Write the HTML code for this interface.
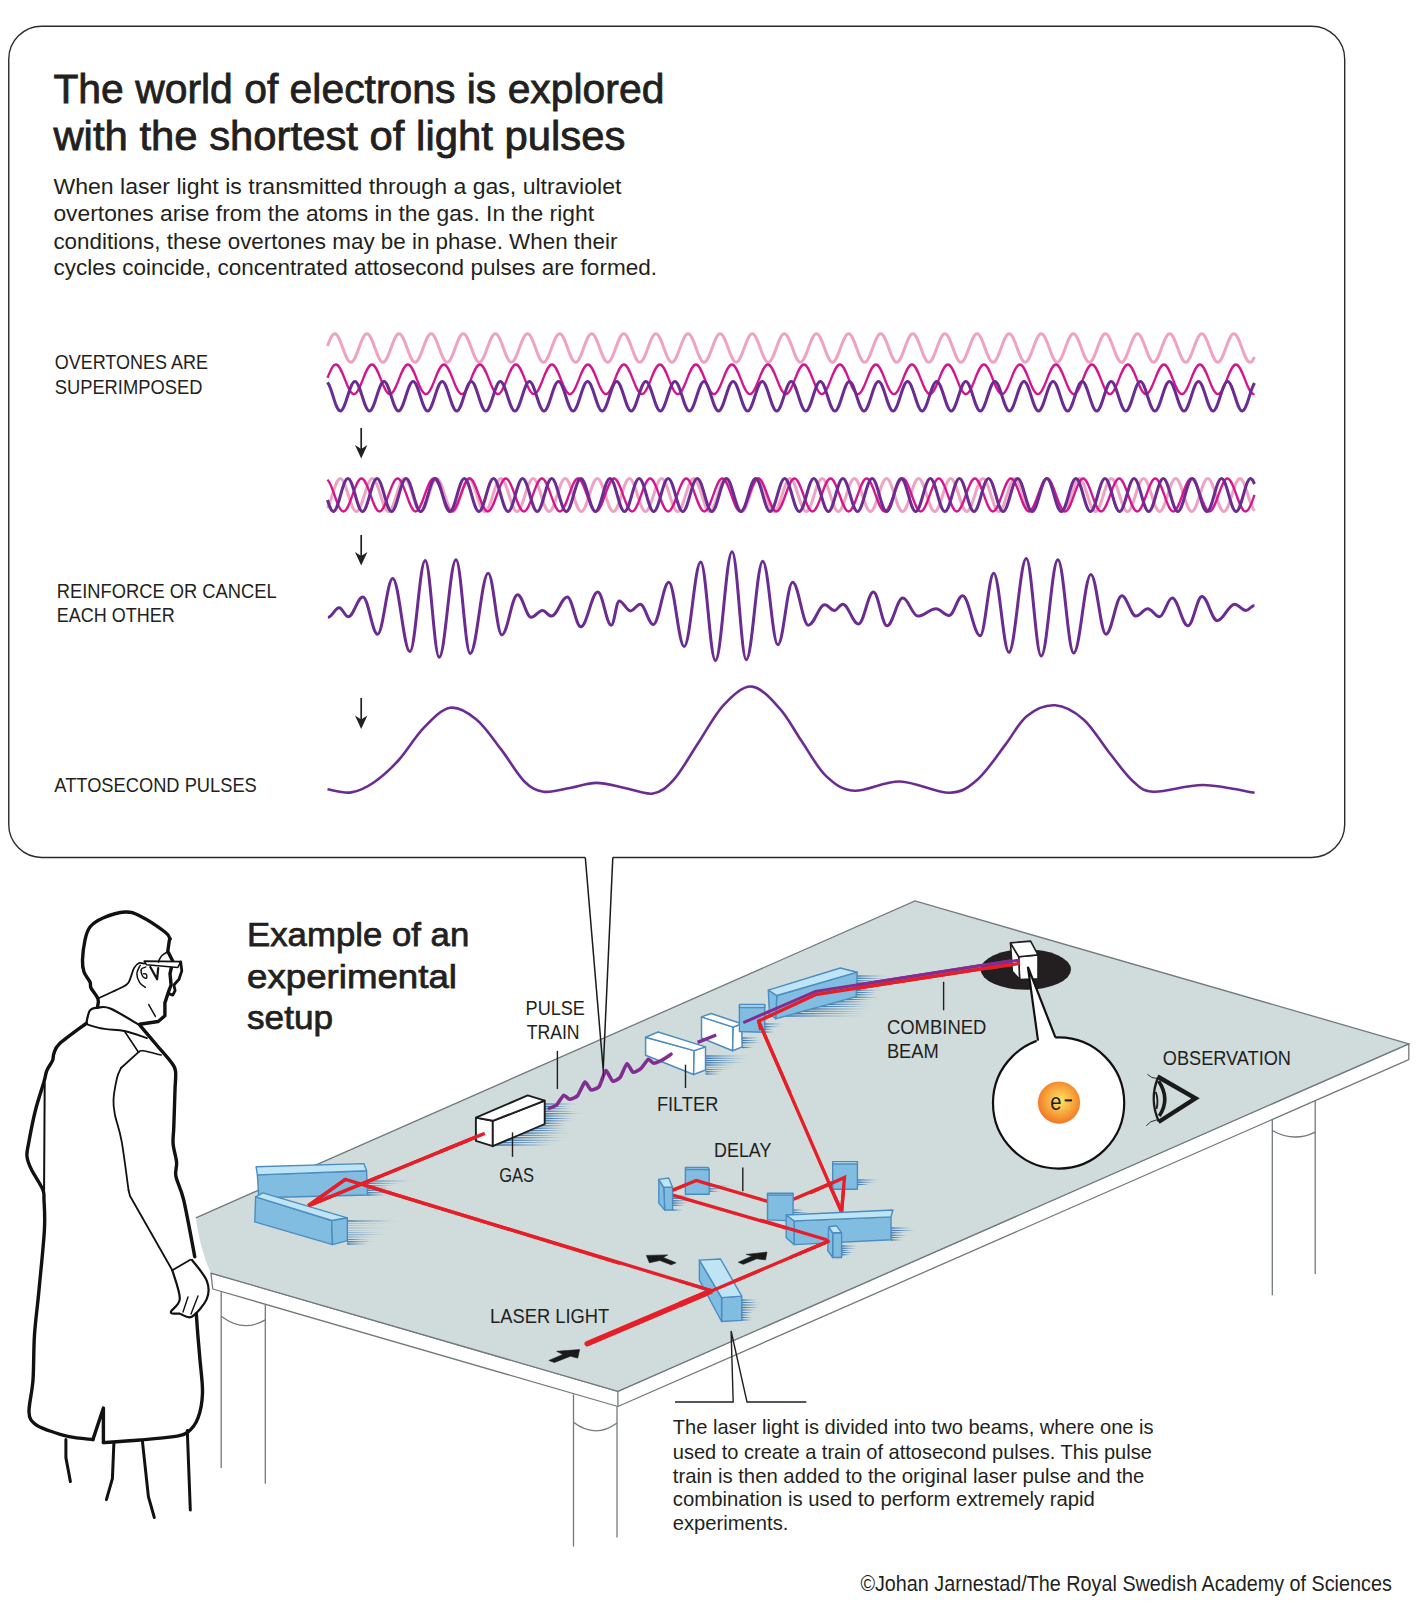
<!DOCTYPE html>
<html><head><meta charset="utf-8"><title>Attosecond pulses</title>
<style>html,body{margin:0;padding:0;background:#fff;} svg{display:block;}</style></head>
<body>
<svg width="1417" height="1602" viewBox="0 0 1417 1602" font-family="'Liberation Sans', sans-serif">
<defs>
<linearGradient id="shg" x1="0" y1="0" x2="1" y2="0" gradientUnits="objectBoundingBox"><stop offset="0" stop-color="#3d76a8"/><stop offset="0.6" stop-color="#5b8fbb" stop-opacity="0.75"/><stop offset="1" stop-color="#7aa6c9" stop-opacity="0"/></linearGradient>
<radialGradient id="eg" cx="0.52" cy="0.45" r="0.55"><stop offset="0" stop-color="#fde66a"/><stop offset="0.45" stop-color="#f9b646"/><stop offset="1" stop-color="#f37522"/></radialGradient>
</defs>
<rect width="1417" height="1602" fill="#fff"/>
<path d="M585.3 857.5 L41.75 857.5 A33 33 0 0 1 8.75 824.5 L8.75 59.2 A33 33 0 0 1 41.75 26.2 L1311.7 26.2 A33 33 0 0 1 1344.7 59.2 L1344.7 824.5 A33 33 0 0 1 1311.7 857.5 L612.8 857.5" fill="none" stroke="#2b2b2b" stroke-width="1.4"/>
<text x="53.4" y="102.6" font-size="40" font-weight="normal" fill="#231f20" textLength="611" lengthAdjust="spacingAndGlyphs" stroke="#231f20" stroke-width="0.8">The world of electrons is explored</text>
<text x="53.4" y="149.8" font-size="40" font-weight="normal" fill="#231f20" textLength="572" lengthAdjust="spacingAndGlyphs" stroke="#231f20" stroke-width="0.8">with the shortest of light pulses</text>
<text x="53.4" y="194.1" font-size="22.5" font-weight="normal" fill="#231f20" textLength="568" lengthAdjust="spacingAndGlyphs">When laser light is transmitted through a gas, ultraviolet</text>
<text x="53.4" y="220.8" font-size="22.5" font-weight="normal" fill="#231f20" textLength="540.6" lengthAdjust="spacingAndGlyphs">overtones arise from the atoms in the gas. In the right</text>
<text x="53.4" y="248.5" font-size="22.5" font-weight="normal" fill="#231f20" textLength="564" lengthAdjust="spacingAndGlyphs">conditions, these overtones may be in phase. When their</text>
<text x="53.4" y="275" font-size="22.5" font-weight="normal" fill="#231f20" textLength="603.6" lengthAdjust="spacingAndGlyphs">cycles coincide, concentrated attosecond pulses are formed.</text>
<text x="54.7" y="369.4" font-size="21" font-weight="normal" fill="#231f20" textLength="153.2" lengthAdjust="spacingAndGlyphs">OVERTONES ARE</text>
<text x="54.7" y="393.8" font-size="21" font-weight="normal" fill="#231f20" textLength="147.7" lengthAdjust="spacingAndGlyphs">SUPERIMPOSED</text>
<text x="56.8" y="597.6" font-size="21" font-weight="normal" fill="#231f20" textLength="219.8" lengthAdjust="spacingAndGlyphs">REINFORCE OR CANCEL</text>
<text x="56.8" y="621.8" font-size="21" font-weight="normal" fill="#231f20" textLength="118" lengthAdjust="spacingAndGlyphs">EACH OTHER</text>
<text x="54.3" y="791.6" font-size="21" font-weight="normal" fill="#231f20" textLength="202.5" lengthAdjust="spacingAndGlyphs">ATTOSECOND PULSES</text>
<path d="M361.2 428 L361.2 449.5" stroke="#231f20" stroke-width="1.7"/><path d="M355.0 445.0 L361.2 458.5 L367.4 445.0 L361.2 449.0Z" fill="#231f20"/>
<path d="M361.2 535 L361.2 556.5" stroke="#231f20" stroke-width="1.7"/><path d="M355.0 552.0 L361.2 565.5 L367.4 552.0 L361.2 556.0Z" fill="#231f20"/>
<path d="M361.2 698 L361.2 720" stroke="#231f20" stroke-width="1.7"/><path d="M355.0 715.5 L361.2 729 L367.4 715.5 L361.2 719.5Z" fill="#231f20"/>

<path d="M327.5 346L329.3 341.2L331.1 337.2L333 334.6L334.8 333.7C340.6 333.7 345 362.3 350.9 362.3C356.7 362.3 361.1 333.7 366.9 333.7C372.8 333.7 377.1 362.3 383 362.3C388.8 362.3 393.2 333.7 399 333.7C404.9 333.7 409.2 362.3 415.1 362.3C420.9 362.3 425.3 333.7 431.1 333.7C437 333.7 441.3 362.3 447.2 362.3C453 362.3 457.4 333.7 463.2 333.7C469.1 333.7 473.5 362.3 479.3 362.3C485.1 362.3 489.5 333.7 495.4 333.7C501.2 333.7 505.6 362.3 511.4 362.3C517.2 362.3 521.6 333.7 527.5 333.7C533.3 333.7 537.7 362.3 543.5 362.3C549.4 362.3 553.7 333.7 559.6 333.7C565.4 333.7 569.8 362.3 575.6 362.3C581.5 362.3 585.8 333.7 591.7 333.7C597.5 333.7 601.9 362.3 607.7 362.3C613.6 362.3 617.9 333.7 623.8 333.7C629.6 333.7 634 362.3 639.8 362.3C645.7 362.3 650.1 333.7 655.9 333.7C661.7 333.7 666.1 362.3 672 362.3C677.8 362.3 682.2 333.7 688 333.7C693.9 333.7 698.2 362.3 704.1 362.3C709.9 362.3 714.3 333.7 720.1 333.7C726 333.7 730.3 362.3 736.2 362.3C742 362.3 746.4 333.7 752.2 333.7C758.1 333.7 762.4 362.3 768.3 362.3C774.1 362.3 778.5 333.7 784.3 333.7C790.2 333.7 794.6 362.3 800.4 362.3C806.2 362.3 810.6 333.7 816.5 333.7C822.3 333.7 826.7 362.3 832.5 362.3C838.3 362.3 842.7 333.7 848.6 333.7C854.4 333.7 858.8 362.3 864.6 362.3C870.5 362.3 874.8 333.7 880.7 333.7C886.5 333.7 890.9 362.3 896.7 362.3C902.6 362.3 906.9 333.7 912.8 333.7C918.6 333.7 923 362.3 928.8 362.3C934.7 362.3 939 333.7 944.9 333.7C950.7 333.7 955.1 362.3 960.9 362.3C966.8 362.3 971.2 333.7 977 333.7C982.8 333.7 987.2 362.3 993.1 362.3C998.9 362.3 1003.3 333.7 1009.1 333.7C1015 333.7 1019.3 362.3 1025.2 362.3C1031 362.3 1035.4 333.7 1041.2 333.7C1047.1 333.7 1051.4 362.3 1057.3 362.3C1063.1 362.3 1067.5 333.7 1073.3 333.7C1079.2 333.7 1083.5 362.3 1089.4 362.3C1095.2 362.3 1099.6 333.7 1105.4 333.7C1111.3 333.7 1115.7 362.3 1121.5 362.3C1127.3 362.3 1131.7 333.7 1137.5 333.7C1143.4 333.7 1147.8 362.3 1153.6 362.3C1159.4 362.3 1163.8 333.7 1169.7 333.7C1175.5 333.7 1179.9 362.3 1185.7 362.3C1191.6 362.3 1195.9 333.7 1201.8 333.7C1207.6 333.7 1212 362.3 1217.8 362.3C1223.7 362.3 1228 333.7 1233.9 333.7C1239.7 333.7 1244.1 362.3 1249.9 362.3L1251.5 361.7L1253 359.8L1254.5 357" fill="none" stroke="#eea3c3" stroke-width="3"/>
<path d="M327.5 377.8L329.2 373.6L330.9 369.9L332.5 367L334.2 365.1L335.9 364.5C342.5 364.5 347.3 394.1 353.9 394.1C360.5 394.1 365.3 364.5 371.9 364.5C378.5 364.5 383.3 394.1 389.9 394.1C396.5 394.1 401.3 364.5 407.9 364.5C414.5 364.5 419.3 394.1 425.9 394.1C432.5 394.1 437.3 364.5 443.9 364.5C450.5 364.5 455.3 394.1 461.9 394.1C468.5 394.1 473.3 364.5 479.9 364.5C486.5 364.5 491.3 394.1 497.9 394.1C504.5 394.1 509.3 364.5 515.9 364.5C522.5 364.5 527.3 394.1 533.9 394.1C540.5 394.1 545.3 364.5 551.9 364.5C558.5 364.5 563.3 394.1 569.9 394.1C576.5 394.1 581.3 364.5 587.9 364.5C594.5 364.5 599.3 394.1 605.9 394.1C612.5 394.1 617.3 364.5 623.9 364.5C630.5 364.5 635.3 394.1 641.9 394.1C648.5 394.1 653.3 364.5 659.9 364.5C666.5 364.5 671.3 394.1 677.9 394.1C684.5 394.1 689.3 364.5 695.9 364.5C702.5 364.5 707.3 394.1 713.9 394.1C720.5 394.1 725.3 364.5 731.9 364.5C738.5 364.5 743.3 394.1 749.9 394.1C756.5 394.1 761.3 364.5 767.9 364.5C774.5 364.5 779.3 394.1 785.9 394.1C792.5 394.1 797.3 364.5 803.9 364.5C810.5 364.5 815.3 394.1 821.9 394.1C828.5 394.1 833.3 364.5 839.9 364.5C846.5 364.5 851.3 394.1 857.9 394.1C864.5 394.1 869.3 364.5 875.9 364.5C882.5 364.5 887.3 394.1 893.9 394.1C900.5 394.1 905.3 364.5 911.9 364.5C918.5 364.5 923.3 394.1 929.9 394.1C936.5 394.1 941.3 364.5 947.9 364.5C954.5 364.5 959.3 394.1 965.9 394.1C972.5 394.1 977.3 364.5 983.9 364.5C990.5 364.5 995.3 394.1 1001.9 394.1C1008.5 394.1 1013.3 364.5 1019.9 364.5C1026.5 364.5 1031.3 394.1 1037.9 394.1C1044.5 394.1 1049.3 364.5 1055.9 364.5C1062.5 364.5 1067.3 394.1 1073.9 394.1C1080.5 394.1 1085.3 364.5 1091.9 364.5C1098.5 364.5 1103.3 394.1 1109.9 394.1C1116.5 394.1 1121.3 364.5 1127.9 364.5C1134.5 364.5 1139.3 394.1 1145.9 394.1C1152.5 394.1 1157.3 364.5 1163.9 364.5C1170.5 364.5 1175.3 394.1 1181.9 394.1C1188.5 394.1 1193.3 364.5 1199.9 364.5C1206.5 364.5 1211.3 394.1 1217.9 394.1C1224.5 394.1 1229.3 364.5 1235.9 364.5C1242.5 364.5 1247.3 394.1 1253.9 394.1L1254.2 394.1L1254.5 394" fill="none" stroke="#d5158b" stroke-width="2.3"/>
<path d="M327.5 382.4L329.1 385L330.7 389L332.3 393.8L333.9 398.9L335.5 403.7L337.1 407.6L338.7 410.1L340.4 411C345.6 411 349.6 381.4 354.9 381.4C360.2 381.4 364.2 411 369.4 411C374.7 411 378.7 381.4 384 381.4C389.3 381.4 393.2 411 398.5 411C403.8 411 407.8 381.4 413.1 381.4C418.4 381.4 422.3 411 427.6 411C432.9 411 436.9 381.4 442.2 381.4C447.5 381.4 451.4 411 456.7 411C462 411 466 381.4 471.3 381.4C476.6 381.4 480.5 411 485.8 411C491.1 411 495.1 381.4 500.3 381.4C505.6 381.4 509.6 411 514.9 411C520.2 411 524.1 381.4 529.4 381.4C534.7 381.4 538.7 411 544 411C549.3 411 553.2 381.4 558.5 381.4C563.8 381.4 567.8 411 573.1 411C578.4 411 582.3 381.4 587.6 381.4C592.9 381.4 596.9 411 602.2 411C607.5 411 611.4 381.4 616.7 381.4C622 381.4 626 411 631.3 411C636.5 411 640.5 381.4 645.8 381.4C651.1 381.4 655.1 411 660.3 411C665.6 411 669.6 381.4 674.9 381.4C680.2 381.4 684.1 411 689.4 411C694.7 411 698.7 381.4 704 381.4C709.3 381.4 713.2 411 718.5 411C723.8 411 727.8 381.4 733.1 381.4C738.4 381.4 742.3 411 747.6 411C752.9 411 756.9 381.4 762.2 381.4C767.5 381.4 771.4 411 776.7 411C782 411 786 381.4 791.2 381.4C796.5 381.4 800.5 411 805.8 411C811.1 411 815 381.4 820.3 381.4C825.6 381.4 829.6 411 834.9 411C840.2 411 844.1 381.4 849.4 381.4C854.7 381.4 858.7 411 864 411C869.3 411 873.2 381.4 878.5 381.4C883.8 381.4 887.8 411 893.1 411C898.4 411 902.3 381.4 907.6 381.4C912.9 381.4 916.9 411 922.2 411C927.4 411 931.4 381.4 936.7 381.4C942 381.4 946 411 951.2 411C956.5 411 960.5 381.4 965.8 381.4C971.1 381.4 975 411 980.3 411C985.6 411 989.6 381.4 994.9 381.4C1000.2 381.4 1004.1 411 1009.4 411C1014.7 411 1018.7 381.4 1024 381.4C1029.3 381.4 1033.2 411 1038.5 411C1043.8 411 1047.8 381.4 1053.1 381.4C1058.4 381.4 1062.3 411 1067.6 411C1072.9 411 1076.9 381.4 1082.2 381.4C1087.4 381.4 1091.4 411 1096.7 411C1102 411 1105.9 381.4 1111.2 381.4C1116.5 381.4 1120.5 411 1125.8 411C1131.1 411 1135 381.4 1140.3 381.4C1145.6 381.4 1149.6 411 1154.9 411C1160.2 411 1164.1 381.4 1169.4 381.4C1174.7 381.4 1178.7 411 1184 411C1189.3 411 1193.2 381.4 1198.5 381.4C1203.8 381.4 1207.8 411 1213.1 411C1218.3 411 1222.3 381.4 1227.6 381.4C1232.9 381.4 1236.9 411 1242.1 411L1243.7 410.2L1245.2 407.8L1246.8 404.2L1248.3 399.7L1249.9 394.8L1251.4 390L1253 386L1254.5 383" fill="none" stroke="#6b2c91" stroke-width="3"/>
<path d="M327.5 508.2L329.1 504.6L330.7 500L332.3 494.9L333.9 489.8L335.5 485.3L337.1 481.6L338.7 479.3L340.3 478.5C346.1 478.5 350.5 511.5 356.4 511.5C362.2 511.5 366.6 478.5 372.4 478.5C378.3 478.5 382.6 511.5 388.5 511.5C394.3 511.5 398.7 478.5 404.6 478.5C410.4 478.5 414.8 511.5 420.6 511.5C426.5 511.5 430.8 478.5 436.7 478.5C442.5 478.5 446.9 511.5 452.8 511.5C458.6 511.5 463 478.5 468.8 478.5C474.7 478.5 479 511.5 484.9 511.5C490.7 511.5 495.1 478.5 501 478.5C506.8 478.5 511.2 511.5 517 511.5C522.9 511.5 527.2 478.5 533.1 478.5C538.9 478.5 543.3 511.5 549.1 511.5C555 511.5 559.4 478.5 565.2 478.5C571.1 478.5 575.4 511.5 581.3 511.5C587.1 511.5 591.5 478.5 597.3 478.5C603.2 478.5 607.6 511.5 613.4 511.5C619.3 511.5 623.6 478.5 629.5 478.5C635.3 478.5 639.7 511.5 645.5 511.5C651.4 511.5 655.8 478.5 661.6 478.5C667.4 478.5 671.8 511.5 677.7 511.5C683.5 511.5 687.9 478.5 693.7 478.5C699.6 478.5 703.9 511.5 709.8 511.5C715.6 511.5 720 478.5 725.9 478.5C731.7 478.5 736.1 511.5 741.9 511.5C747.8 511.5 752.1 478.5 758 478.5C763.8 478.5 768.2 511.5 774.1 511.5C779.9 511.5 784.3 478.5 790.1 478.5C796 478.5 800.3 511.5 806.2 511.5C812 511.5 816.4 478.5 822.2 478.5C828.1 478.5 832.5 511.5 838.3 511.5C844.2 511.5 848.5 478.5 854.4 478.5C860.2 478.5 864.6 511.5 870.4 511.5C876.3 511.5 880.7 478.5 886.5 478.5C892.4 478.5 896.7 511.5 902.6 511.5C908.4 511.5 912.8 478.5 918.6 478.5C924.5 478.5 928.9 511.5 934.7 511.5C940.6 511.5 944.9 478.5 950.8 478.5C956.6 478.5 961 511.5 966.8 511.5C972.7 511.5 977.1 478.5 982.9 478.5C988.7 478.5 993.1 511.5 999 511.5C1004.8 511.5 1009.2 478.5 1015 478.5C1020.9 478.5 1025.2 511.5 1031.1 511.5C1036.9 511.5 1041.3 478.5 1047.2 478.5C1053 478.5 1057.4 511.5 1063.2 511.5C1069.1 511.5 1073.4 478.5 1079.3 478.5C1085.1 478.5 1089.5 511.5 1095.4 511.5C1101.2 511.5 1105.6 478.5 1111.4 478.5C1117.3 478.5 1121.6 511.5 1127.5 511.5C1133.3 511.5 1137.7 478.5 1143.6 478.5C1149.4 478.5 1153.8 511.5 1159.6 511.5C1165.5 511.5 1169.8 478.5 1175.7 478.5C1181.5 478.5 1185.9 511.5 1191.7 511.5C1197.6 511.5 1202 478.5 1207.8 478.5C1213.7 478.5 1218 511.5 1223.9 511.5C1229.7 511.5 1234.1 478.5 1239.9 478.5L1241.6 479.3L1243.2 481.7L1244.8 485.4L1246.4 490L1248 495.2L1249.6 500.3L1251.3 504.9L1252.9 508.5L1254.5 510.8" fill="none" stroke="#eea3c3" stroke-width="3"/>
<path d="M327.5 479.6L329.1 481.8L330.7 485L332.3 489L333.9 493.4L335.5 498L337.1 502.3L338.7 506.1L340.3 509L341.9 510.9L343.5 511.5C350 511.5 354.9 478.5 361.5 478.5C368.1 478.5 373 511.5 379.5 511.5C386.1 511.5 391 478.5 397.6 478.5C404.1 478.5 409.1 511.5 415.6 511.5C422.2 511.5 427.1 478.5 433.7 478.5C440.2 478.5 445.1 511.5 451.7 511.5C458.3 511.5 463.2 478.5 469.7 478.5C476.3 478.5 481.2 511.5 487.8 511.5C494.3 511.5 499.3 478.5 505.8 478.5C512.4 478.5 517.3 511.5 523.9 511.5C530.4 511.5 535.3 478.5 541.9 478.5C548.5 478.5 553.4 511.5 559.9 511.5C566.5 511.5 571.4 478.5 578 478.5C584.5 478.5 589.5 511.5 596 511.5C602.6 511.5 607.5 478.5 614.1 478.5C620.6 478.5 625.5 511.5 632.1 511.5C638.7 511.5 643.6 478.5 650.1 478.5C656.7 478.5 661.6 511.5 668.2 511.5C674.7 511.5 679.7 478.5 686.2 478.5C692.8 478.5 697.7 511.5 704.3 511.5C710.8 511.5 715.7 478.5 722.3 478.5C728.9 478.5 733.8 511.5 740.3 511.5C746.9 511.5 751.8 478.5 758.4 478.5C764.9 478.5 769.9 511.5 776.4 511.5C783 511.5 787.9 478.5 794.5 478.5C801 478.5 805.9 511.5 812.5 511.5C819.1 511.5 824 478.5 830.5 478.5C837.1 478.5 842 511.5 848.6 511.5C855.1 511.5 860.1 478.5 866.6 478.5C873.2 478.5 878.1 511.5 884.7 511.5C891.2 511.5 896.1 478.5 902.7 478.5C909.3 478.5 914.2 511.5 920.7 511.5C927.3 511.5 932.2 478.5 938.8 478.5C945.3 478.5 950.3 511.5 956.8 511.5C963.4 511.5 968.3 478.5 974.9 478.5C981.4 478.5 986.3 511.5 992.9 511.5C999.5 511.5 1004.4 478.5 1010.9 478.5C1017.5 478.5 1022.4 511.5 1029 511.5C1035.5 511.5 1040.5 478.5 1047 478.5C1053.6 478.5 1058.5 511.5 1065.1 511.5C1071.6 511.5 1076.5 478.5 1083.1 478.5C1089.7 478.5 1094.6 511.5 1101.1 511.5C1107.7 511.5 1112.6 478.5 1119.2 478.5C1125.7 478.5 1130.7 511.5 1137.2 511.5C1143.8 511.5 1148.7 478.5 1155.3 478.5C1161.8 478.5 1166.7 511.5 1173.3 511.5C1179.9 511.5 1184.8 478.5 1191.3 478.5C1197.9 478.5 1202.8 511.5 1209.4 511.5C1215.9 511.5 1220.9 478.5 1227.4 478.5C1234 478.5 1238.9 511.5 1245.5 511.5L1247 510.9L1248.5 509.3L1250 506.6L1251.5 503.2L1253 499.2L1254.5 494.9" fill="none" stroke="#d5158b" stroke-width="2.3"/>
<path d="M327.5 500L329.4 506L331.4 510.1L333.3 511.5C338.6 511.5 342.6 478.5 347.9 478.5C353.2 478.5 357.2 511.5 362.5 511.5C367.8 511.5 371.7 478.5 377 478.5C382.3 478.5 386.3 511.5 391.6 511.5C396.9 511.5 400.8 478.5 406.1 478.5C411.4 478.5 415.4 511.5 420.7 511.5C426 511.5 430 478.5 435.3 478.5C440.6 478.5 444.5 511.5 449.8 511.5C455.1 511.5 459.1 478.5 464.4 478.5C469.7 478.5 473.6 511.5 478.9 511.5C484.2 511.5 488.2 478.5 493.5 478.5C498.8 478.5 502.8 511.5 508.1 511.5C513.4 511.5 517.3 478.5 522.6 478.5C527.9 478.5 531.9 511.5 537.2 511.5C542.5 511.5 546.4 478.5 551.7 478.5C557 478.5 561 511.5 566.3 511.5C571.6 511.5 575.6 478.5 580.9 478.5C586.2 478.5 590.1 511.5 595.4 511.5C600.7 511.5 604.7 478.5 610 478.5C615.3 478.5 619.2 511.5 624.5 511.5C629.8 511.5 633.8 478.5 639.1 478.5C644.4 478.5 648.4 511.5 653.7 511.5C659 511.5 662.9 478.5 668.2 478.5C673.5 478.5 677.5 511.5 682.8 511.5C688.1 511.5 692 478.5 697.3 478.5C702.6 478.5 706.6 511.5 711.9 511.5C717.2 511.5 721.2 478.5 726.5 478.5C731.8 478.5 735.7 511.5 741 511.5C746.3 511.5 750.3 478.5 755.6 478.5C760.9 478.5 764.8 511.5 770.1 511.5C775.4 511.5 779.4 478.5 784.7 478.5C790 478.5 794 511.5 799.3 511.5C804.6 511.5 808.5 478.5 813.8 478.5C819.1 478.5 823.1 511.5 828.4 511.5C833.7 511.5 837.6 478.5 842.9 478.5C848.2 478.5 852.2 511.5 857.5 511.5C862.8 511.5 866.8 478.5 872.1 478.5C877.4 478.5 881.3 511.5 886.6 511.5C891.9 511.5 895.9 478.5 901.2 478.5C906.5 478.5 910.4 511.5 915.7 511.5C921 511.5 925 478.5 930.3 478.5C935.6 478.5 939.6 511.5 944.9 511.5C950.2 511.5 954.1 478.5 959.4 478.5C964.7 478.5 968.7 511.5 974 511.5C979.3 511.5 983.2 478.5 988.5 478.5C993.8 478.5 997.8 511.5 1003.1 511.5C1008.4 511.5 1012.4 478.5 1017.7 478.5C1023 478.5 1026.9 511.5 1032.2 511.5C1037.5 511.5 1041.5 478.5 1046.8 478.5C1052.1 478.5 1056 511.5 1061.3 511.5C1066.6 511.5 1070.6 478.5 1075.9 478.5C1081.2 478.5 1085.2 511.5 1090.5 511.5C1095.8 511.5 1099.7 478.5 1105 478.5C1110.3 478.5 1114.3 511.5 1119.6 511.5C1124.9 511.5 1128.8 478.5 1134.1 478.5C1139.4 478.5 1143.4 511.5 1148.7 511.5C1154 511.5 1158 478.5 1163.3 478.5C1168.6 478.5 1172.5 511.5 1177.8 511.5C1183.1 511.5 1187.1 478.5 1192.4 478.5C1197.7 478.5 1201.6 511.5 1206.9 511.5C1212.2 511.5 1216.2 478.5 1221.5 478.5C1226.8 478.5 1230.8 511.5 1236.1 511.5C1241.4 511.5 1245.3 478.5 1250.6 478.5L1252.6 479.9L1254.5 484" fill="none" stroke="#6b2c91" stroke-width="3"/>
<path d="M327.9 617.3C332 617.3 335.1 607.8 339.2 607.8C342.5 607.8 344.9 616.8 348.2 616.8C353.6 616.8 357.5 597 362.9 597C368.3 597 372.2 634.2 377.6 634.2C383.1 634.2 387.2 578.4 392.7 578.4C399 578.4 403.6 651.6 409.9 651.6C415.5 651.6 419.6 560.4 425.2 560.4C430.3 560.4 434.1 657.2 439.2 657.2C445.3 657.2 449.9 559.7 456 559.7C461.2 559.7 465 653.4 470.2 653.4C476.8 653.4 481.6 573.2 488.2 573.2C493.2 573.2 496.8 634.9 501.8 634.9C507.6 634.9 511.8 594.7 517.6 594.7C522.6 594.7 526.2 617.3 531.2 617.3C535.3 617.3 538.3 610.5 542.4 610.5C545.7 610.5 548.2 616.1 551.5 616.1C557.3 616.1 561.5 597 567.3 597C572.2 597 575.9 626.8 580.8 626.8C587 626.8 591.6 592 597.8 592C602.7 592 606.4 625.2 611.3 625.2C614.2 625.2 616.3 601 619.2 601C623.3 601 626.4 610.9 630.5 610.9C634 610.9 636.7 604.2 640.2 604.2C645 604.2 648.5 624.5 653.3 624.5C658.9 624.5 663.2 582.3 668.8 582.3C674.4 582.3 678.6 646.6 684.2 646.6C690.2 646.6 694.7 561.9 700.7 561.9C706.1 561.9 710 660.6 715.4 660.6C721.5 660.6 726 551.8 732.1 551.8C737.3 551.8 741.1 659.7 746.3 659.7C752.3 659.7 756.8 561.3 762.8 561.3C768.3 561.3 772.4 644.8 777.9 644.8C783.3 644.8 787.2 582.3 792.6 582.3C798.4 582.3 802.6 625.2 808.4 625.2C814.3 625.2 818.8 604.8 824.7 604.8C828.2 604.8 830.9 610.5 834.4 610.5C837.4 610.5 839.7 604.2 842.7 604.2C848.5 604.2 852.7 624 858.5 624C863.9 624 868 592 873.4 592C878.4 592 882 625.8 887 625.8C892.8 625.8 897 598.1 902.8 598.1C908.3 598.1 912.4 616.1 917.9 616.1C924.5 616.1 929.4 608.7 936 608.7C940.7 608.7 944.3 615.5 949 615.5C954 615.5 957.6 595.8 962.6 595.8C969 595.8 973.8 635.8 980.2 635.8C985.1 635.8 988.8 573.2 993.7 573.2C999.2 573.2 1003.4 652.3 1008.9 652.3C1015.2 652.3 1020 558.6 1026.3 558.6C1031.7 558.6 1035.8 656.1 1041.2 656.1C1047.3 656.1 1051.8 559.7 1057.9 559.7C1063.7 559.7 1067.9 653 1073.7 653C1080 653 1084.6 574.4 1090.9 574.4C1096.4 574.4 1100.5 634.2 1106 634.2C1111.8 634.2 1116 595.8 1121.8 595.8C1127 595.8 1130.8 616.1 1136 616.1C1140.3 616.1 1143.5 608.7 1147.8 608.7C1152.1 608.7 1155.2 616.8 1159.5 616.8C1164.1 616.8 1167.6 598.1 1172.2 598.1C1178 598.1 1182.2 625.8 1188 625.8C1193.1 625.8 1196.9 596.5 1202 596.5C1207.6 596.5 1211.7 620.7 1217.3 620.7C1223.6 620.7 1228.4 604.2 1234.7 604.2C1238.8 604.2 1241.9 610.5 1246 610.5C1249.1 610.5 1251.3 605.5 1254.4 605.5" fill="none" stroke="#6b2c91" stroke-width="3"/>
<path d="M327.5 789.3C331.4 789.8 343.4 793.6 351.2 792.4C359 791.2 366.2 787.6 374.1 782.2C382 776.8 390.6 769 398.8 760C407 751 415 736.9 423.5 728.2C432 719.5 441.2 709.3 450 707.8C458.8 706.3 467.9 712.5 476.4 719.4C484.9 726.3 493.2 739.1 501.1 749.4C509.1 759.7 517 774.2 524.1 781.2C531.2 788.2 535.9 790.6 543.5 791.7C551.1 792.8 561.2 789.5 570 788C578.8 786.5 587.2 782.9 596.4 782.9C605.6 782.9 615.6 786.2 625 788C634.4 789.8 644.7 794.9 652.9 793.5C661.1 792.1 666.4 787.9 674 779.4C681.6 770.9 690.5 754.6 698.7 742.3C706.9 729.9 714.6 714.6 723.4 705.3C732.2 696 742.3 686 751.7 686.6C761.1 687.2 771.8 699.8 780 708.8C788.2 717.8 793.6 729.4 801.2 740.6C808.9 751.8 817.1 767.5 825.9 775.9C834.7 784.2 841.8 789.8 854.1 790.7C866.5 791.6 884.1 781.1 900 781.5C915.9 781.9 936.5 793.1 949.4 792.8C962.3 792.4 968.2 787.5 977.6 779.4C987 771.3 997.6 754.7 1005.8 744.1C1014 733.5 1018.8 722.4 1027 715.9C1035.2 709.4 1045.8 704.7 1055.2 705.3C1064.6 705.9 1074.7 711.8 1083.5 719.4C1092.3 727 1100 740.9 1108.2 751.2C1116.4 761.5 1125.3 774.5 1132.9 781.2C1140.5 788 1142.2 791.1 1154 791.7C1165.8 792.3 1186.6 784.8 1203.4 785C1220.2 785.2 1246.1 791.5 1254.6 792.8" fill="none" stroke="#6b2c91" stroke-width="2.6"/>

<path d="M221.2 1291.4 L221.2 1468 M265.3 1304.3 L265.3 1483.8 M221.2 1316.2 Q243.25 1332.9499999999998 265.3 1319.9" fill="none" stroke="#737a7d" stroke-width="1.3"/>
<path d="M573.5 1394.2 L573.5 1546.5 M617 1406.5 L617 1537.5 M573.5 1422.3 Q595.25 1439.0 617 1422.9" fill="none" stroke="#737a7d" stroke-width="1.3"/>
<path d="M1272.3 1119.5 L1272.3 1295.3 M1315.2 1100.7 L1315.2 1273.9 M1272.3 1130.5 Q1293.75 1142.7 1315.2 1132.1" fill="none" stroke="#737a7d" stroke-width="1.3"/>
<polygon points="210.9,1273.1 617.9,1391.3 1408.8,1043.8 1408.8,1059.6 617.9,1406.5 212.8,1289" fill="#fff" stroke="#737a7d" stroke-width="1.3" stroke-linejoin="round"/>
<polyline points="617.9,1391.3 617.9,1406.5" fill="none" stroke="#737a7d" stroke-width="1.3" stroke-linejoin="miter"/>
<path d="M195.9 1217.8 L915 901 L1408.8 1043.8 L617.9 1391.3 L210.9 1273.1 Q200 1250 195.9 1217.8Z" fill="#d0dbdb"/>
<polyline points="195.9,1217.8 915,901 1408.8,1043.8 617.9,1391.3 210.9,1273.1" fill="none" stroke="#737a7d" stroke-width="1.3" stroke-linejoin="miter"/>

<polygon points="367,1180.2 417.9,1181 367,1181.8" fill="url(#shg)"/><polygon points="367,1182.6 404.2,1183.3 367,1184.1" fill="url(#shg)"/><polygon points="367,1184.9 396.6,1185.7 367,1186.4" fill="url(#shg)"/><polygon points="367,1187.2 394.8,1188 367,1188.8" fill="url(#shg)"/><polygon points="367,1189.6 399.5,1190.3 367,1191.1" fill="url(#shg)"/><polygon points="367,1191.9 396.3,1192.7 367,1193.4" fill="url(#shg)"/><polygon points="367.4,1194.2 389.5,1195 367.4,1195.8" fill="url(#shg)"/>
<polygon points="347,1220.2 403.8,1221 347,1221.8" fill="url(#shg)"/><polygon points="262.2,1222.5 407.3,1223.3 262.2,1224" fill="url(#shg)"/><polygon points="273.5,1224.8 393.5,1225.6 273.5,1226.3" fill="url(#shg)"/><polygon points="284.8,1227.2 402.1,1227.9 284.8,1228.7" fill="url(#shg)"/><polygon points="296.1,1229.5 383.9,1230.2 296.1,1231" fill="url(#shg)"/><polygon points="307.4,1231.8 391,1232.5 307.4,1233.2" fill="url(#shg)"/><polygon points="318.8,1234 395.3,1234.8 318.8,1235.5" fill="url(#shg)"/><polygon points="330.1,1236.3 378.7,1237.1 330.1,1237.8" fill="url(#shg)"/><polygon points="341.4,1238.7 373.2,1239.4 341.4,1240.2" fill="url(#shg)"/><polygon points="347,1241 376.6,1241.7 347,1242.5" fill="url(#shg)"/><polygon points="347,1243.2 371.7,1244 347,1244.8" fill="url(#shg)"/>
<polygon points="544.7,1103.2 581.9,1104 544.7,1104.8" fill="url(#shg)"/><polygon points="544.7,1105.7 574.4,1106.4 544.7,1107.2" fill="url(#shg)"/><polygon points="544.7,1108.1 576.3,1108.8 544.7,1109.6" fill="url(#shg)"/><polygon points="544.7,1110.5 580,1111.2 544.7,1112" fill="url(#shg)"/><polygon points="544.7,1112.9 586.5,1113.6 544.7,1114.4" fill="url(#shg)"/><polygon points="544.7,1115.3 577.3,1116.1 544.7,1116.8" fill="url(#shg)"/><polygon points="544.7,1117.7 577.9,1118.5 544.7,1119.2" fill="url(#shg)"/><polygon points="544.7,1120.1 576.7,1120.9 544.7,1121.6" fill="url(#shg)"/><polygon points="544.7,1122.5 568.5,1123.3 544.7,1124" fill="url(#shg)"/><polygon points="540.7,1125 569.8,1125.7 540.7,1126.5" fill="url(#shg)"/><polygon points="535.1,1127.4 570,1128.1 535.1,1128.9" fill="url(#shg)"/><polygon points="529.4,1129.8 570.4,1130.5 529.4,1131.3" fill="url(#shg)"/><polygon points="523.8,1132.2 576.2,1132.9 523.8,1133.7" fill="url(#shg)"/><polygon points="518.2,1134.6 565.1,1135.4 518.2,1136.1" fill="url(#shg)"/><polygon points="512.5,1137 572.3,1137.8 512.5,1138.5" fill="url(#shg)"/><polygon points="506.9,1139.4 570.7,1140.2 506.9,1140.9" fill="url(#shg)"/><polygon points="501.2,1141.8 561.8,1142.6 501.2,1143.3" fill="url(#shg)"/><polygon points="495.6,1144.2 562,1145 495.6,1145.8" fill="url(#shg)"/>
<polygon points="705.5,1055.2 751,1056 705.5,1056.8" fill="url(#shg)"/><polygon points="705.5,1057.5 751.4,1058.2 705.5,1059" fill="url(#shg)"/><polygon points="705.5,1059.8 745.2,1060.5 705.5,1061.2" fill="url(#shg)"/><polygon points="705.5,1062 750.8,1062.8 705.5,1063.5" fill="url(#shg)"/><polygon points="705.5,1064.2 737,1065 705.5,1065.8" fill="url(#shg)"/><polygon points="678.6,1066.5 741.3,1067.2 678.6,1068" fill="url(#shg)"/><polygon points="700.6,1068.8 732.1,1069.5 700.6,1070.2" fill="url(#shg)"/><polygon points="705.5,1071 724.9,1071.8 705.5,1072.5" fill="url(#shg)"/><polygon points="705.5,1073.2 722.8,1074 705.5,1074.8" fill="url(#shg)"/>
<polygon points="742,1037.2 762.1,1038 742,1038.8" fill="url(#shg)"/><polygon points="742,1039.7 762.2,1040.4 742,1041.2" fill="url(#shg)"/><polygon points="742,1042 762.6,1042.8 742,1043.5" fill="url(#shg)"/><polygon points="721.3,1044.5 760.1,1045.2 721.3,1046" fill="url(#shg)"/><polygon points="742,1046.8 755,1047.6 742,1048.3" fill="url(#shg)"/>
<polygon points="764.8,1023.2 785.6,1024 764.8,1024.8" fill="url(#shg)"/><polygon points="764.8,1025.9 782.1,1026.7 764.8,1027.4" fill="url(#shg)"/><polygon points="764.8,1028.6 774.9,1029.3 764.8,1030.1" fill="url(#shg)"/><polygon points="764.8,1031.2 775.6,1032 764.8,1032.8" fill="url(#shg)"/>
<polygon points="856,975.2 890,976 856,976.8" fill="url(#shg)"/><polygon points="856,977.6 889.4,978.4 856,979.1" fill="url(#shg)"/><polygon points="856,980 879.9,980.7 856,981.5" fill="url(#shg)"/><polygon points="856,982.3 879.7,983.1 856,983.8" fill="url(#shg)"/><polygon points="856,984.7 885.9,985.4 856,986.2" fill="url(#shg)"/><polygon points="856,987 881.5,987.8 856,988.5" fill="url(#shg)"/><polygon points="856,989.4 885,990.1 856,990.9" fill="url(#shg)"/><polygon points="856,991.7 879.5,992.5 856,993.2" fill="url(#shg)"/><polygon points="856,994.1 878.4,994.8 856,995.6" fill="url(#shg)"/><polygon points="854.1,996.4 882.6,997.2 854.1,997.9" fill="url(#shg)"/><polygon points="845.6,998.8 874.7,999.5 845.6,1000.3" fill="url(#shg)"/><polygon points="837,1001.1 874.2,1001.9 837,1002.6" fill="url(#shg)"/><polygon points="828.5,1003.5 875.4,1004.2 828.5,1005" fill="url(#shg)"/><polygon points="820,1005.8 874.6,1006.6 820,1007.3" fill="url(#shg)"/><polygon points="811.4,1008.2 877.3,1008.9 811.4,1009.7" fill="url(#shg)"/><polygon points="802.9,1010.5 873.2,1011.3 802.9,1012" fill="url(#shg)"/><polygon points="794.4,1012.9 871.2,1013.6 794.4,1014.4" fill="url(#shg)"/><polygon points="785.9,1015.2 873.6,1016 785.9,1016.8" fill="url(#shg)"/>
<polygon points="672.6,1195.2 694.6,1196 672.6,1196.8" fill="url(#shg)"/><polygon points="672.6,1197.6 695.8,1198.3 672.6,1199.1" fill="url(#shg)"/><polygon points="672.6,1199.9 692.3,1200.7 672.6,1201.4" fill="url(#shg)"/><polygon points="672.6,1202.2 690.4,1203 672.6,1203.8" fill="url(#shg)"/><polygon points="672.6,1204.6 687.4,1205.3 672.6,1206.1" fill="url(#shg)"/><polygon points="672.6,1209.2 684,1210 672.6,1210.8" fill="url(#shg)"/>
<polygon points="709.2,1185.2 732.5,1186 709.2,1186.8" fill="url(#shg)"/><polygon points="709.2,1187.9 726.2,1188.7 709.2,1189.4" fill="url(#shg)"/><polygon points="709.2,1190.6 721.3,1191.3 709.2,1192.1" fill="url(#shg)"/>
<polygon points="793.1,1209.2 805.4,1210 793.1,1210.8" fill="url(#shg)"/><polygon points="793.1,1211.8 810.4,1212.5 793.1,1213.2" fill="url(#shg)"/>
<polygon points="857.4,1179.2 881.9,1180 857.4,1180.8" fill="url(#shg)"/><polygon points="857.4,1181.5 878.4,1182.2 857.4,1183" fill="url(#shg)"/><polygon points="857.4,1183.8 871.6,1184.5 857.4,1185.2" fill="url(#shg)"/>
<polygon points="891,1227.2 914.6,1228 891,1228.8" fill="url(#shg)"/><polygon points="891,1229.7 918.8,1230.4 891,1231.2" fill="url(#shg)"/><polygon points="891,1232 907.5,1232.8 891,1233.5" fill="url(#shg)"/><polygon points="891,1234.5 909.8,1235.2 891,1236" fill="url(#shg)"/><polygon points="891,1236.8 905.5,1237.6 891,1238.3" fill="url(#shg)"/><polygon points="891,1239.2 903.9,1240 891,1240.8" fill="url(#shg)"/>
<polygon points="841.6,1245.2 860.1,1246 841.6,1246.8" fill="url(#shg)"/><polygon points="841.6,1247.5 858.5,1248.2 841.6,1249" fill="url(#shg)"/><polygon points="841.6,1249.7 852.6,1250.4 841.6,1251.2" fill="url(#shg)"/><polygon points="841.6,1251.8 855.9,1252.6 841.6,1253.3" fill="url(#shg)"/><polygon points="841.6,1254 852.2,1254.8 841.6,1255.5" fill="url(#shg)"/>
<polygon points="741.7,1299.2 759,1300 741.7,1300.8" fill="url(#shg)"/><polygon points="741.7,1301.8 761.1,1302.5 741.7,1303.2" fill="url(#shg)"/><polygon points="741.7,1304.2 762.5,1305 741.7,1305.8" fill="url(#shg)"/><polygon points="741.7,1306.8 761.5,1307.5 741.7,1308.2" fill="url(#shg)"/><polygon points="741.7,1309.2 758.2,1310 741.7,1310.8" fill="url(#shg)"/><polygon points="741.7,1311.8 754.8,1312.5 741.7,1313.2" fill="url(#shg)"/><polygon points="741.7,1314.2 752,1315 741.7,1315.8" fill="url(#shg)"/><polygon points="741.7,1316.8 753.4,1317.5 741.7,1318.2" fill="url(#shg)"/><polygon points="741.7,1319.2 753.4,1320 741.7,1320.8" fill="url(#shg)"/>
<ellipse cx="1025.8" cy="969.5" rx="45.2" ry="20.2" fill="#231f20"/>
<polyline points="712,1290.8 345.4,1179.4 308.4,1205.7 484.8,1133.4" fill="none" stroke="#e61e27" stroke-width="3.3" stroke-linejoin="miter"/>
<polyline points="712,1290.8 829.7,1240.7 672.6,1195.2" fill="none" stroke="#e61e27" stroke-width="3.3" stroke-linejoin="miter"/>
<polyline points="672.6,1190.3 696.3,1180.4 780,1205 844.5,1177.4 841.6,1212 758.6,1021 815.5,994.7 1015.7,963.6" fill="none" stroke="#e61e27" stroke-width="3.3" stroke-linejoin="miter"/>
<polyline points="743.3,1022.7 815.5,991.4 1014.6,960.3" fill="none" stroke="#822d91" stroke-width="3" stroke-linejoin="miter"/>
<path d="M587.2 1343.7 L712 1290.8" stroke="#e61e27" stroke-width="5.5" stroke-linecap="round"/>
<polygon points="257.4,1174.9 366.6,1170.8 367.4,1195 258.8,1197.7" fill="#80bde1" stroke="#4b8dc0" stroke-width="1.4" stroke-linejoin="round"/>
<polygon points="256.1,1166.8 363.9,1163.6 366.6,1170.8 257.4,1174.9" fill="#bfe4f4" stroke="#4b8dc0" stroke-width="1.4" stroke-linejoin="round"/>
<polyline points="620,1263.4 345.4,1179.4 308.4,1205.7 470,1139.5" fill="none" stroke="#e61e27" stroke-width="3.3" stroke-linejoin="miter"/>
<polygon points="255.6,1196.9 331.7,1220.5 332.5,1244.6 254.8,1221.8" fill="#80bde1" stroke="#4b8dc0" stroke-width="1.4" stroke-linejoin="round"/>
<polygon points="331.7,1220.5 347.3,1217.8 347.3,1240.6 332.5,1244.6" fill="#80bde1" stroke="#4b8dc0" stroke-width="1.4" stroke-linejoin="round"/>
<polygon points="255.6,1196.9 262.8,1192.8 347.3,1217.8 331.7,1220.5" fill="#bfe4f4" stroke="#4b8dc0" stroke-width="1.4" stroke-linejoin="round"/>
<polyline points="345.4,1179.4 308.4,1205.7 380,1176.4" fill="none" stroke="#e61e27" stroke-width="3.3" stroke-linejoin="miter"/>
<polygon points="475.9,1117.6 492.8,1120.8 492.8,1146.2 475.9,1140.9" fill="#fff" stroke="#1e1e1e" stroke-width="1.9" stroke-linejoin="round"/>
<polygon points="492.8,1120.8 544.7,1100.7 544.7,1124 492.8,1146.2" fill="#fff" stroke="#1e1e1e" stroke-width="1.9" stroke-linejoin="round"/>
<polygon points="475.9,1117.6 527.7,1095.4 544.7,1100.7 492.8,1120.8" fill="#fff" stroke="#1e1e1e" stroke-width="1.9" stroke-linejoin="round"/>
<polyline points="440,1151.6 484.8,1133.4" fill="none" stroke="#e61e27" stroke-width="3.3" stroke-linejoin="miter"/>
<polygon points="645.6,1037.3 694.2,1050.6 693.6,1074.5 645.6,1055.3" fill="#fff" stroke="#4b8dc0" stroke-width="1.5" stroke-linejoin="round"/>
<polygon points="694.2,1050.6 705.5,1046.9 705.5,1070 693.6,1074.5" fill="#fff" stroke="#4b8dc0" stroke-width="1.5" stroke-linejoin="round"/>
<polygon points="645.6,1037.3 658.1,1032 705.5,1046.9 694.2,1050.6" fill="#fff" stroke="#4b8dc0" stroke-width="1.5" stroke-linejoin="round"/>
<path d="M549.4 1108.2C550.1 1107.9 555.5 1105.9 556.8 1104.7C558.1 1103.5 562.5 1095.8 563.7 1095.3C564.9 1094.8 568.3 1099.3 569.6 1099.3C570.9 1099.3 576.1 1097.4 577.5 1095.8C578.9 1094.2 583.8 1082.5 585 1082C586.2 1081.5 589.6 1089.5 590.9 1089.9C592.2 1090.3 598 1088.2 599.3 1086.4C600.6 1084.6 604.5 1071.1 605.7 1070.6C606.9 1070.1 611.3 1080.4 612.6 1081C613.9 1081.6 618.7 1079.1 620 1077.5C621.3 1075.9 625.8 1064.2 627 1063.7C628.2 1063.2 631.6 1071.6 632.9 1072.1C634.2 1072.6 639.4 1069.9 640.8 1068.7C642.2 1067.5 647 1059.8 648.2 1059.3C649.4 1058.8 652.3 1063.2 653.6 1063.2C654.9 1063.2 660.9 1060.6 662.5 1059.8C664.1 1059 670.2 1054.7 671 1054.2" fill="none" stroke="#822d91" stroke-width="3.6" stroke-linecap="round" stroke-linejoin="round"/>
<polygon points="701.5,1016.9 733.2,1027.1 732.6,1050.8 701.5,1038" fill="#fff" stroke="#4b8dc0" stroke-width="1.5" stroke-linejoin="round"/>
<polygon points="733.2,1027.1 741.6,1023.7 742.2,1046.9 732.6,1050.8" fill="#fff" stroke="#4b8dc0" stroke-width="1.5" stroke-linejoin="round"/>
<polygon points="701.5,1016.9 711.1,1013.5 741.6,1023.7 733.2,1027.1" fill="#fff" stroke="#4b8dc0" stroke-width="1.5" stroke-linejoin="round"/>
<polyline points="697.6,1042.3 716.2,1035" fill="none" stroke="#822d91" stroke-width="3.4" stroke-linejoin="miter"/>
<polygon points="739.4,1006 764.8,1006 764.8,1032.2 739.4,1031.5" fill="#80bde1" stroke="#4b8dc0" stroke-width="1.4" stroke-linejoin="round"/>
<polygon points="739.4,1004.5 764.8,1004.5 764.8,1007.5 739.4,1007.5" fill="#bfe4f4" stroke="#4b8dc0" stroke-width="1.4" stroke-linejoin="round"/>
<polygon points="776.8,995.5 857.2,972.2 856.2,996.6 775.7,1018.8" fill="#80bde1" stroke="#4b8dc0" stroke-width="1.4" stroke-linejoin="round"/>
<polygon points="768.3,990.2 776.8,995.5 775.7,1018.8 769.4,1013.5" fill="#80bde1" stroke="#4b8dc0" stroke-width="1.4" stroke-linejoin="round"/>
<polygon points="768.3,990.2 840.3,968 857.2,972.2 776.8,995.5" fill="#bfe4f4" stroke="#4b8dc0" stroke-width="1.4" stroke-linejoin="round"/>
<polyline points="743.3,1022.7 815.5,991.4 1014.6,960.3" fill="none" stroke="#822d91" stroke-width="3" stroke-linejoin="miter"/>
<polyline points="760.8,1030 758.6,1021 815.5,994.7 1015.7,963.6" fill="none" stroke="#e61e27" stroke-width="3.3" stroke-linejoin="miter"/>
<polyline points="758.6,1021 790,1093" fill="none" stroke="#e61e27" stroke-width="3.3" stroke-linejoin="miter"/>
<polyline points="990,968 1022,962.8" fill="none" stroke="#e61e27" stroke-width="3.3" stroke-linejoin="miter"/>
<polyline points="990,964.6 1022,959.5" fill="none" stroke="#822d91" stroke-width="3" stroke-linejoin="miter"/>
<polygon points="1018.7,956.7 1038,954.9 1038,978.7 1019.6,979.6" fill="#fff" stroke="#1e1e1e" stroke-width="1.6" stroke-linejoin="round"/>
<polygon points="1010.5,942.9 1018.7,956.7 1019.6,979.6 1012.3,971.4" fill="#fff" stroke="#1e1e1e" stroke-width="1.6" stroke-linejoin="round"/>
<polygon points="1010.5,942.9 1030.6,941.1 1038,954.9 1018.7,956.7" fill="#fff" stroke="#1e1e1e" stroke-width="1.6" stroke-linejoin="round"/>
<polyline points="1005,966 1020,963.2" fill="none" stroke="#e61e27" stroke-width="3.3" stroke-linejoin="miter"/>
<polyline points="1005,962.5 1020,960" fill="none" stroke="#822d91" stroke-width="3" stroke-linejoin="miter"/>
<circle cx="1058.6" cy="1103" r="65.6" fill="#fff" stroke="#111" stroke-width="2.2"/>
<polygon points="1037,1043 1027.9,966.8 1056.5,1041" fill="#fff"/>
<path d="M1038 1040.6 L1027.9 966.8 L1055.4 1037.4" fill="none" stroke="#111" stroke-width="2.2" stroke-linejoin="miter"/>
<circle cx="1059" cy="1102.6" r="21.1" fill="url(#eg)"/>
<text x="1050.3" y="1110.2" font-size="24" fill="#231f20" textLength="11.2" lengthAdjust="spacingAndGlyphs">e</text>
<path d="M1064.7 1100.4 L1072 1100.4" stroke="#231f20" stroke-width="2"/>
<path d="M1157.5 1076.5 L1195.5 1098.3 L1158.5 1122" fill="none" stroke="#1a1a1a" stroke-width="4.4" stroke-linejoin="miter" stroke-miterlimit="10"/>
<path d="M1158 1077.5 Q1149 1099.5 1158.8 1121.5" fill="none" stroke="#1a1a1a" stroke-width="2.3"/>
<path d="M1158.6 1081 Q1170.6 1099 1159.3 1116" fill="none" stroke="#1a1a1a" stroke-width="3.6"/>
<path d="M1155.8 1092 Q1158.8 1100 1156.5 1109" fill="none" stroke="#1a1a1a" stroke-width="1.8"/>
<path d="M1147.4 1074.3 Q1151 1078.2 1157 1078.6 M1146.3 1125.7 Q1150 1120.8 1157 1119.8" fill="none" stroke="#1a1a1a" stroke-width="0.9"/>
<polygon points="663.7,1187.3 672.6,1187.3 672.6,1210 664.7,1210" fill="#80bde1" stroke="#4b8dc0" stroke-width="1.4" stroke-linejoin="round"/>
<polygon points="658.8,1179.4 663.7,1187.3 664.7,1210 658.8,1203.1" fill="#80bde1" stroke="#4b8dc0" stroke-width="1.4" stroke-linejoin="round"/>
<polygon points="658.8,1179.4 668.7,1178 672.6,1187.3 663.7,1187.3" fill="#bfe4f4" stroke="#4b8dc0" stroke-width="1.4" stroke-linejoin="round"/>
<polygon points="685.4,1168.5 709.2,1169.5 709.2,1194.2 685.4,1194.2" fill="#80bde1" stroke="#4b8dc0" stroke-width="1.4" stroke-linejoin="round"/>
<polygon points="685.4,1167.5 708.2,1167.5 709.2,1169.5 686.4,1169.5" fill="#bfe4f4" stroke="#4b8dc0" stroke-width="1.4" stroke-linejoin="round"/>
<polyline points="672.6,1190.3 696.3,1180.4 710,1184.6" fill="none" stroke="#e61e27" stroke-width="3.3" stroke-linejoin="miter"/>
<polygon points="767.5,1194.2 793.1,1194.2 793.1,1220.9 767.5,1219.9" fill="#80bde1" stroke="#4b8dc0" stroke-width="1.4" stroke-linejoin="round"/>
<polygon points="767.5,1193.2 793.1,1193.2 793.1,1195 767.5,1195" fill="#bfe4f4" stroke="#4b8dc0" stroke-width="1.4" stroke-linejoin="round"/>
<polygon points="832.7,1162.6 857.4,1162.6 857.4,1189.3 832.7,1189.3" fill="#80bde1" stroke="#4b8dc0" stroke-width="1.4" stroke-linejoin="round"/>
<polygon points="832.7,1161.6 857.4,1161.6 857.4,1164 832.7,1164" fill="#bfe4f4" stroke="#4b8dc0" stroke-width="1.4" stroke-linejoin="round"/>
<polyline points="810,1193 844.5,1177.4 841.6,1212 830,1186" fill="none" stroke="#e61e27" stroke-width="3.3" stroke-linejoin="miter"/>
<polygon points="794.1,1220.9 891,1216.9 891,1239.7 794.1,1244.6" fill="#80bde1" stroke="#4b8dc0" stroke-width="1.4" stroke-linejoin="round"/>
<polygon points="786.2,1215 794.1,1220.9 794.1,1244.6 786.2,1237.7" fill="#80bde1" stroke="#4b8dc0" stroke-width="1.4" stroke-linejoin="round"/>
<polygon points="786.2,1215 892.9,1210 891,1216.9 794.1,1220.9" fill="#bfe4f4" stroke="#4b8dc0" stroke-width="1.4" stroke-linejoin="round"/>
<polyline points="760,1220 829.7,1240.7 790,1257.5" fill="none" stroke="#e61e27" stroke-width="3.3" stroke-linejoin="miter"/>
<polygon points="832.7,1232.8 841.6,1232.8 841.6,1257.5 832.7,1257.5" fill="#80bde1" stroke="#4b8dc0" stroke-width="1.4" stroke-linejoin="round"/>
<polygon points="828.7,1226.8 832.7,1232.8 832.7,1257.5 827.7,1250.5" fill="#80bde1" stroke="#4b8dc0" stroke-width="1.4" stroke-linejoin="round"/>
<polygon points="828.7,1226.8 836.6,1225.8 841.6,1232.8 832.7,1232.8" fill="#bfe4f4" stroke="#4b8dc0" stroke-width="1.4" stroke-linejoin="round"/>
<polyline points="829.7,1240.7 800,1253.3" fill="none" stroke="#e61e27" stroke-width="3.3" stroke-linejoin="miter"/>
<polygon points="721.6,1297.6 741.7,1296.1 741.7,1320.4 721.6,1321.5" fill="#80bde1" stroke="#4b8dc0" stroke-width="1.4" stroke-linejoin="round"/>
<polygon points="699.4,1260.1 721.6,1297.6 721.6,1321.5 699.4,1280.2" fill="#80bde1" stroke="#4b8dc0" stroke-width="1.4" stroke-linejoin="round"/>
<polygon points="699.4,1260.1 720.5,1259 741.7,1296.1 721.6,1297.6" fill="#bfe4f4" stroke="#4b8dc0" stroke-width="1.4" stroke-linejoin="round"/>
<polyline points="680,1281 712,1290.8 760,1270.4" fill="none" stroke="#e61e27" stroke-width="3.3" stroke-linejoin="miter"/>
<path d="M680 1304.4 L712 1290.8" stroke="#e61e27" stroke-width="5.5"/>
<polygon points="548.9,1360.4 562.9,1354.5 556.7,1351.3 579.6,1349.6 577.7,1358.1 570.5,1356.2 554.4,1362.5" fill="#1a1a1a" stroke="#1a1a1a" stroke-width="0.6" stroke-linejoin="round"/>
<polygon points="646.4,1255.4 667.7,1254.9 663.2,1257.4 676.1,1262.8 671.1,1264.8 659.8,1260.5 649.4,1262.8" fill="#1a1a1a" stroke="#1a1a1a" stroke-width="0.6" stroke-linejoin="round"/>
<polygon points="767,1252.1 746.2,1254.4 752.2,1255.9 738.3,1262.3 743.3,1264.3 756.6,1258.8 765.5,1259.8" fill="#1a1a1a" stroke="#1a1a1a" stroke-width="0.6" stroke-linejoin="round"/>
<text x="525.6" y="1014.9" font-size="20" fill="#231f20" textLength="59.3" lengthAdjust="spacingAndGlyphs">PULSE</text>
<text x="526.7" y="1038.6" font-size="20" fill="#231f20" textLength="52.9" lengthAdjust="spacingAndGlyphs">TRAIN</text>
<text x="499.2" y="1182.2" font-size="20" fill="#231f20" textLength="34.9" lengthAdjust="spacingAndGlyphs">GAS</text>
<text x="656.9" y="1110.8" font-size="20" fill="#231f20" textLength="61.4" lengthAdjust="spacingAndGlyphs">FILTER</text>
<text x="714.1" y="1156.7" font-size="20" fill="#231f20" textLength="57.3" lengthAdjust="spacingAndGlyphs">DELAY</text>
<text x="886.9" y="1033.6" font-size="20" fill="#231f20" textLength="99.5" lengthAdjust="spacingAndGlyphs">COMBINED</text>
<text x="886.9" y="1058" font-size="20" fill="#231f20" textLength="51.9" lengthAdjust="spacingAndGlyphs">BEAM</text>
<text x="1162.8" y="1065" font-size="20" fill="#231f20" textLength="128.2" lengthAdjust="spacingAndGlyphs">OBSERVATION</text>
<text x="490" y="1322.7" font-size="20" fill="#231f20" textLength="119.3" lengthAdjust="spacingAndGlyphs">LASER LIGHT</text>
<path d="M557.4 1050.9 L557.4 1089" stroke="#231f20" stroke-width="1.4"/>
<path d="M512.5 1132.4 L512.5 1156.8" stroke="#231f20" stroke-width="1.4"/>
<path d="M685.5 1064.7 L685.5 1088" stroke="#231f20" stroke-width="1.4"/>
<path d="M742.8 1167.5 L742.8 1191.3" stroke="#231f20" stroke-width="1.4"/>
<path d="M943.6 981.8 L943.6 1010.3" stroke="#231f20" stroke-width="1.4"/>
<polyline points="675,1402 733.2,1402 731.1,1331 747,1402 806.3,1402" fill="none" stroke="#231f20" stroke-width="1.4" stroke-linejoin="miter"/>

<path d="M585.3 857.5 L603.2 1069.6 L612.8 857.5" fill="none" stroke="#1a1a1a" stroke-width="1.5" stroke-linejoin="miter" stroke-miterlimit="20"/>
<path d="M86.3 1023.3 L59.5 1043.7 L46.8 1070.6 L35.5 1110 L27 1156.6 L42.6 1189.1 L44.4 1230 L34.5 1334.7 L28.5 1415.6 L69 1436.6 L173.8 1436.6 L200.8 1394.6 L196.3 1313.7 L206.8 1298.8 L206.8 1280.8 L194.8 1256.8 L175.9 1176.4 L173.8 1066.3 L140 1025.4Z" fill="#fff" stroke="#111" stroke-width="0" stroke-linejoin="round" stroke-linecap="round"/>
<path d="M97.5 1007 L98 999 L91 988 L90 982 L84 972 L82.5 960 L85 940 L90 927 L103 918 L125 912 L140 916 L165 932 L170 939 L169.4 940 L167.8 951.2 L172.8 961.3 L170 973.7 L171.1 985 L168.9 990.6 L164.9 1002.9 L164.9 1015.8 L158.2 1021.5 L139.7 1024.3Z" fill="#fff" stroke="#111" stroke-width="0" stroke-linejoin="round" stroke-linecap="round"/>
<path d="M97.5 1007C97.6 1005.7 99.1 1002.2 98 999C96.9 995.8 92.3 990.8 91 988C89.7 985.2 91.2 984.7 90 982C88.8 979.3 85.2 975.7 84 972C82.8 968.3 82.3 965.3 82.5 960C82.7 954.7 83.8 945.5 85 940C86.2 934.5 87 930.7 90 927C93 923.3 97.2 920.5 103 918C108.8 915.5 118.8 912.3 125 912C131.2 911.7 133.3 912.7 140 916C146.7 919.3 160 928.2 165 932C170 935.8 169.2 937.8 170 939" fill="none" stroke="#111" stroke-width="3.4" stroke-linejoin="round" stroke-linecap="round"/>
<path d="M170 939 L169.4 940 L167.8 951.2 L172.8 961.3 L170 973.7 L171.1 985 L168.9 990.6 L164.9 1002.9 L164.9 1015.8 L158.2 1021.5 L139.7 1024.3" fill="none" stroke="#111" stroke-width="3.4" stroke-linejoin="round" stroke-linecap="round"/>
<path d="M99 998C101.2 997 108.5 993.6 112 992C115.5 990.4 117.3 989.8 120 988.3C122.7 986.8 126.1 986.1 128.4 982.7C130.7 979.3 132.2 971.4 134 968.1C135.8 964.8 137.4 963.8 139.1 963C140.8 962.2 143.3 963.5 144.2 963.6" fill="none" stroke="#111" stroke-width="1.8" stroke-linejoin="round" stroke-linecap="round"/>
<path d="M140.2 965.3C139.6 966.7 137 970.8 136.9 973.7C136.8 976.6 138.3 980.5 139.7 982.7C141.1 985 144.4 986.5 145.3 987.2" fill="none" stroke="#111" stroke-width="1.5" stroke-linejoin="round" stroke-linecap="round"/>
<path d="M145.8 967C145.1 967.4 141.9 967.7 141.3 969.2C140.8 970.7 141.7 974.5 142.5 976C143.3 977.5 145.8 978.5 146.4 978.2C147.1 977.9 146.9 975 146.4 974.3C145.9 973.5 144.1 973.8 143.6 973.7" fill="none" stroke="#111" stroke-width="1.4" stroke-linejoin="round" stroke-linecap="round"/>
<path d="M144.2 961.1 L180.7 961.6 L177.9 967.5 L146.4 964.7Z" fill="#fff" stroke="#111" stroke-width="1.6" stroke-linejoin="round" stroke-linecap="round"/>
<path d="M180.7 961.9 L181.8 970.9 L179 979.3 L173.9 985 L175.1 990.6 L172.8 995.1 L169.4 993.9" fill="none" stroke="#111" stroke-width="2.8" stroke-linejoin="round" stroke-linecap="round"/>
<path d="M167.8 951.8C166.8 952.4 163.4 954.2 162 955.5C160.6 956.8 159.9 958.6 159.3 959.7C158.7 960.8 158.6 961.6 158.5 962" fill="none" stroke="#111" stroke-width="1.6" stroke-linejoin="round" stroke-linecap="round"/>
<path d="M150.3 967 L157.1 979.3 L158.2 968.1" fill="none" stroke="#111" stroke-width="2.2" stroke-linejoin="round" stroke-linecap="round"/>
<path d="M148.7 1004.6 L155.4 1016.4" fill="none" stroke="#111" stroke-width="1.5" stroke-linejoin="round" stroke-linecap="round"/>
<path d="M86.3 1023.3C86.9 1021.2 87.9 1013.2 89.8 1010.6C91.7 1008 94.2 1008.1 97.6 1007.8C101 1007.4 103.2 1005.6 110.3 1008.5C117.4 1011.4 135.1 1022.6 140 1025.4" fill="none" stroke="#111" stroke-width="2.2" stroke-linejoin="round" stroke-linecap="round"/>
<path d="M87.7 1024.7C90.5 1025.4 98.6 1027.9 104.7 1028.9C110.8 1030 117.4 1029.5 124.4 1031C131.5 1032.5 143.2 1036.9 147 1038.1" fill="none" stroke="#111" stroke-width="1.8" stroke-linejoin="round" stroke-linecap="round"/>
<path d="M124.4 1031 L138.5 1052.2" fill="none" stroke="#111" stroke-width="1.6" stroke-linejoin="round" stroke-linecap="round"/>
<path d="M138.5 1052.2C139.2 1052 139 1050.3 142.8 1050.8C146.6 1051.3 158.1 1054.3 161.1 1055" fill="none" stroke="#111" stroke-width="1.6" stroke-linejoin="round" stroke-linecap="round"/>
<path d="M86.3 1023.3C81.8 1026.7 64.9 1038.7 59.5 1043.7C54.1 1048.8 55.1 1050.8 53.9 1053.6C52.7 1056.4 53.7 1057.9 52.5 1060.7C51.3 1063.5 48.2 1067.1 46.8 1070.6C45.4 1074.1 45.9 1075.2 44 1081.8C42.1 1088.4 38.1 1099.7 35.5 1110C32.9 1120.3 29.9 1136.1 28.5 1143.9C27.1 1151.7 26.5 1152.4 27 1156.6C27.5 1160.8 28.7 1163.9 31.3 1169.3C33.9 1174.7 40.5 1184 42.6 1189.1C44.7 1194.2 43.7 1193.2 44 1200C44.3 1206.8 45.2 1215 44.4 1230C43.6 1245 40.6 1272.5 39 1290C37.4 1307.5 35.5 1319.7 34.5 1334.7C33.5 1349.7 33.9 1367.1 33 1380C32.1 1392.9 28.7 1404.7 29 1412C29.3 1419.3 31.5 1420.8 35 1424C38.5 1427.2 44.3 1428.9 50 1431C55.7 1433.1 61.9 1435.2 69 1436.6C76.2 1438 88.9 1439.1 92.9 1439.6" fill="none" stroke="#111" stroke-width="3.4" stroke-linejoin="round" stroke-linecap="round"/>
<path d="M92.9 1439.6 L103.4 1408 L103.4 1442.6" fill="none" stroke="#111" stroke-width="3.4" stroke-linejoin="round" stroke-linecap="round"/>
<path d="M103.4 1442.6C109.5 1442.2 128.3 1441 140 1440C151.7 1439 165.9 1437.9 173.8 1436.6C181.7 1435.3 183.5 1435.5 187.5 1432.4C191.5 1429.3 195.5 1424.6 198 1418C200.5 1411.4 202.2 1402.7 202.5 1393C202.8 1383.3 200.8 1369.7 200 1360C199.2 1350.3 198.4 1342.4 197.8 1334.7C197.2 1327 196.6 1317.2 196.3 1313.7" fill="none" stroke="#111" stroke-width="3.4" stroke-linejoin="round" stroke-linecap="round"/>
<path d="M44.7 1083.2 L44 1200" fill="none" stroke="#111" stroke-width="2" stroke-linejoin="round" stroke-linecap="round"/>
<path d="M140 1025.4C142.8 1028.8 151.8 1039.4 157 1045.5C162.2 1051.6 167.9 1057.8 171 1062C174.1 1066.2 174.8 1066.3 175.5 1071C176.2 1075.7 175.3 1080.7 175 1090C174.7 1099.3 174.1 1118 173.8 1127C173.5 1136 172.6 1138 173.1 1143.9C173.6 1149.8 176.1 1156.9 176.6 1162.3C177.1 1167.7 174.7 1170.1 175.9 1176.4C177.1 1182.7 180.5 1186.6 183.7 1200C186.8 1213.4 193 1247.3 194.8 1256.8" fill="none" stroke="#111" stroke-width="3.4" stroke-linejoin="round" stroke-linecap="round"/>
<path d="M138.5 1052.2 L121 1068" fill="none" stroke="#111" stroke-width="1.8" stroke-linejoin="round" stroke-linecap="round"/>
<path d="M121 1068C120.3 1069.7 118.2 1072.7 117 1078C115.8 1083.3 113.8 1093.8 113.5 1100C113.2 1106.2 113.7 1108.2 115 1115C116.3 1121.8 119.3 1128.5 121.6 1141.1C123.9 1153.7 127.4 1182.3 128.6 1190.5" fill="none" stroke="#111" stroke-width="1.8" stroke-linejoin="round" stroke-linecap="round"/>
<path d="M128.6 1190.5 L130 1196 L172.3 1270.3" fill="none" stroke="#111" stroke-width="1.8" stroke-linejoin="round" stroke-linecap="round"/>
<path d="M172.3 1270.3 L190.3 1259.8" fill="none" stroke="#111" stroke-width="1.8" stroke-linejoin="round" stroke-linecap="round"/>
<path d="M172.3 1270.3C173.6 1275 180.1 1291.8 179.8 1298.8C179.6 1305.8 170.8 1309.7 170.8 1312.2C170.8 1314.7 176.3 1313 179.8 1313.7C183.3 1314.5 187.3 1319.2 191.8 1316.7C196.3 1314.2 204.3 1304.8 206.8 1298.8C209.3 1292.8 209.3 1287.3 206.8 1280.8C204.3 1274.3 194.5 1263.5 192 1260" fill="none" stroke="#111" stroke-width="2.2" stroke-linejoin="round" stroke-linecap="round"/>
<path d="M183 1312 L188 1297" fill="none" stroke="#111" stroke-width="1.4" stroke-linejoin="round" stroke-linecap="round"/>
<path d="M191 1314 L198 1296" fill="none" stroke="#111" stroke-width="1.4" stroke-linejoin="round" stroke-linecap="round"/>
<path d="M65.9 1439.6 L65.9 1457.6 L70.4 1481.6" fill="none" stroke="#111" stroke-width="3" stroke-linejoin="round" stroke-linecap="round"/>
<path d="M113.9 1442.6 L112.4 1478.6 L106.4 1499.6" fill="none" stroke="#111" stroke-width="3" stroke-linejoin="round" stroke-linecap="round"/>
<path d="M142.4 1441.1 L148.4 1496.6 L154.3 1517.5" fill="none" stroke="#111" stroke-width="3" stroke-linejoin="round" stroke-linecap="round"/>
<path d="M187.3 1430.6 L190.3 1510" fill="none" stroke="#111" stroke-width="3" stroke-linejoin="round" stroke-linecap="round"/>

<text x="672.8" y="1434.1" font-size="21" fill="#231f20" textLength="480.8" lengthAdjust="spacingAndGlyphs">The laser light is divided into two beams, where one is</text>
<text x="672.8" y="1458.7" font-size="21" fill="#231f20" textLength="479" lengthAdjust="spacingAndGlyphs">used to create a train of attosecond pulses. This pulse</text>
<text x="672.8" y="1482.6" font-size="21" fill="#231f20" textLength="471.6" lengthAdjust="spacingAndGlyphs">train is then added to the original laser pulse and the</text>
<text x="672.8" y="1506.4" font-size="21" fill="#231f20" textLength="422.1" lengthAdjust="spacingAndGlyphs">combination is used to perform extremely rapid</text>
<text x="672.8" y="1530.3" font-size="21" fill="#231f20" textLength="115.6" lengthAdjust="spacingAndGlyphs">experiments.</text>
<text x="860.4" y="1590.5" font-size="21.5" fill="#231f20" textLength="531.4" lengthAdjust="spacingAndGlyphs">©Johan Jarnestad/The Royal Swedish Academy of Sciences</text>
<text x="247" y="945.9" font-size="33.5" fill="#231f20" stroke="#231f20" stroke-width="0.75" textLength="222.3" lengthAdjust="spacingAndGlyphs">Example of an</text>
<text x="247" y="987.5" font-size="33.5" fill="#231f20" stroke="#231f20" stroke-width="0.75" textLength="210" lengthAdjust="spacingAndGlyphs">experimental</text>
<text x="247" y="1029.3" font-size="33.5" fill="#231f20" stroke="#231f20" stroke-width="0.75" textLength="86" lengthAdjust="spacingAndGlyphs">setup</text>

</svg>
</body></html>
